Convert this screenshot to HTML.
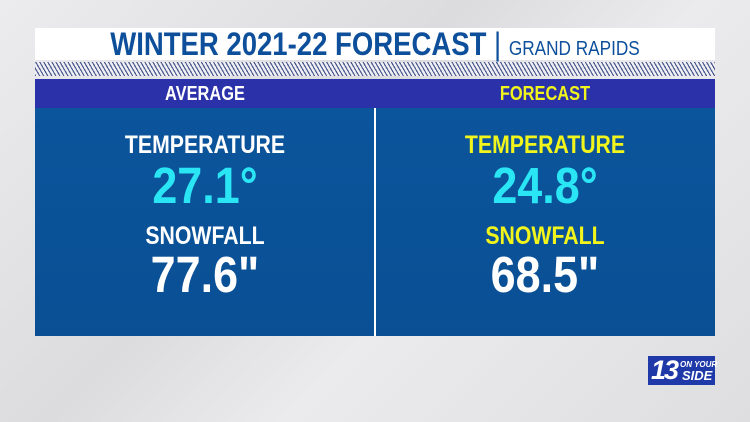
<!DOCTYPE html>
<html><head><style>
body{margin:0;width:750px;height:422px;overflow:hidden;background:#e4e4e6;font-family:"Liberation Sans",sans-serif;position:relative}
.bgs{position:absolute;inset:0;background:linear-gradient(135deg,#ececee 0%,#dcdcde 40%,#ebebed 60%,#dedee0 100%)}
.t{position:absolute;white-space:nowrap;font-weight:bold;transform-origin:center;text-align:center}
</style></head><body>
<div class="bgs"></div>
<div style="position:absolute;left:35px;top:28px;width:680px;height:32px;background:#fff"></div>
<div class="t" style="left:35px;width:680px;top:28px;font-size:32px;color:#0d4f9a;transform:scaleX(0.86);line-height:33px">WINTER 2021-22 FORECAST <span style="font-weight:normal">|</span> <span style="font-weight:normal;font-size:20px">GRAND RAPIDS</span></div>
<div style="position:absolute;left:35px;top:62px;width:680px;height:14px;background:repeating-linear-gradient(60deg,#4a5a8e 0 1.2px,#f0f0f4 1.2px 3.5px)"></div>
<div style="position:absolute;left:35px;top:79px;width:680px;height:29px;background:#2a31a9"></div>
<div style="position:absolute;left:35px;top:108px;width:680px;height:228px;background:linear-gradient(180deg,#0b559c,#0a4f94)"></div>
<div style="position:absolute;left:374px;top:108px;width:2px;height:228px;background:#fff"></div>
<div class="t" style="left:35px;width:340px;top:83px;font-size:20px;color:#fff;transform:scaleX(0.82)">AVERAGE</div>
<div class="t" style="left:375px;width:340px;top:83px;font-size:20px;color:#f2f51c;transform:scaleX(0.82)">FORECAST</div>
<div class="t" style="left:35px;width:340px;top:131px;font-size:25px;color:#fff;transform:scaleX(0.85)">TEMPERATURE</div>
<div class="t" style="left:35px;width:340px;top:156px;font-size:51px;color:#2ae6f5;transform:scaleX(0.88)">27.1°</div>
<div class="t" style="left:35px;width:340px;top:222px;font-size:25px;color:#fff;transform:scaleX(0.85)">SNOWFALL</div>
<div class="t" style="left:35px;width:340px;top:245px;font-size:51px;color:#fff;transform:scaleX(0.88)">77.6"</div>
<div class="t" style="left:375px;width:340px;top:131px;font-size:25px;color:#f2f51c;transform:scaleX(0.85)">TEMPERATURE</div>
<div class="t" style="left:375px;width:340px;top:156px;font-size:51px;color:#2ae6f5;transform:scaleX(0.88)">24.8°</div>
<div class="t" style="left:375px;width:340px;top:222px;font-size:25px;color:#f2f51c;transform:scaleX(0.85)">SNOWFALL</div>
<div class="t" style="left:375px;width:340px;top:245px;font-size:51px;color:#fff;transform:scaleX(0.88)">68.5"</div>
<div style="position:absolute;left:648px;top:356px;width:67px;height:29px;background:#1f3aa8;color:#fff;font-weight:bold;font-style:italic;white-space:nowrap">
<span style="position:absolute;left:3px;top:0;font-size:27px;line-height:29px;letter-spacing:-2px">13</span>
<span style="position:absolute;left:32px;top:5px;font-size:8px;line-height:8px">ON YOUR</span>
<span style="position:absolute;left:34px;top:13px;font-size:13px;line-height:13px">SIDE</span></div>
</body></html>
